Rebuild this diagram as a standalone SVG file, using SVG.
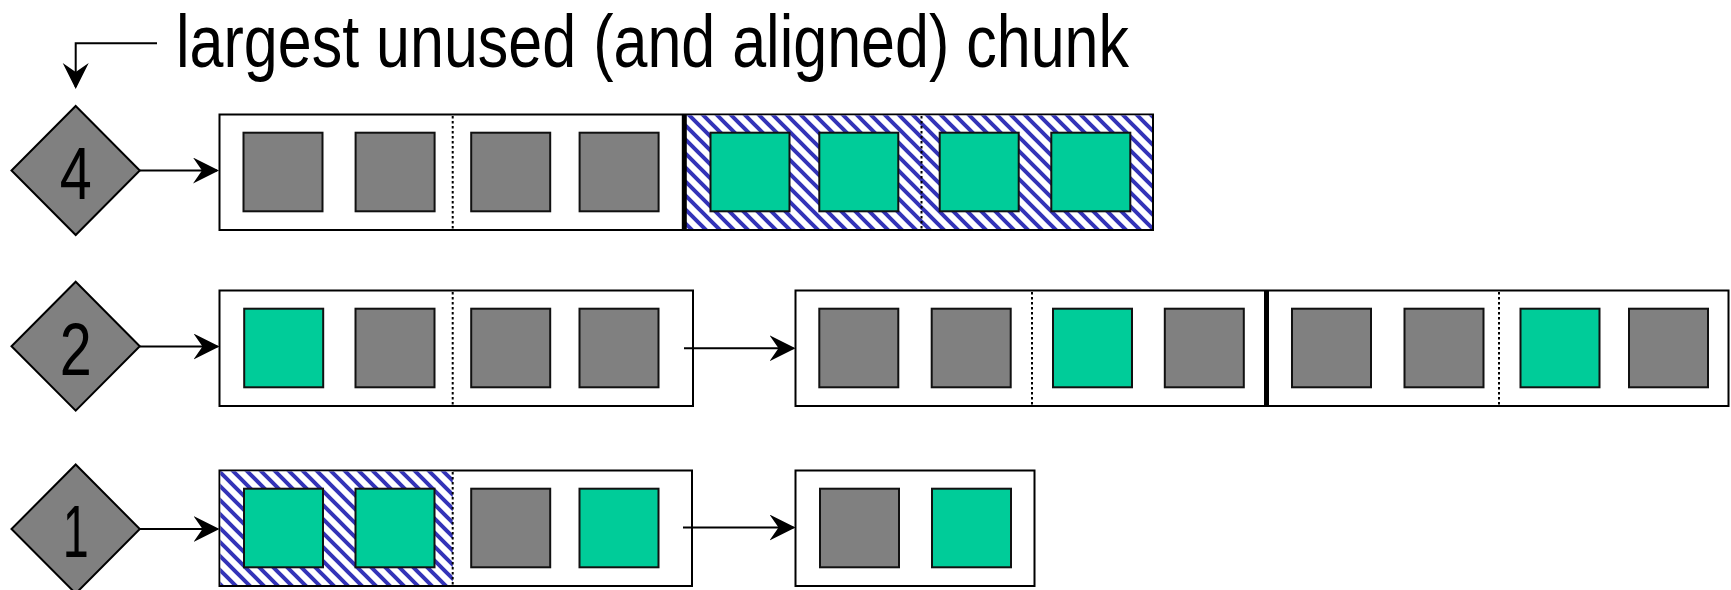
<svg xmlns="http://www.w3.org/2000/svg" width="1731" height="590" viewBox="0 0 1731 590">
  <style>
    .txt { font-family: "Liberation Sans Narrow", "Liberation Sans", Arial, sans-serif; fill: #000; }
    .num { font-size: 75px; text-anchor: middle; }
    .dia { fill: #808080; stroke: #000; stroke-width: 2; }
    .box { fill: #fff; stroke: #000; stroke-width: 2; }
    .hatch { fill: url(#stripes); stroke: none; }
    .used { fill: #808080; stroke: #111; stroke-width: 2; }
    .free { fill: #00cc99; stroke: #111; stroke-width: 2; }
    .half { stroke: #000; stroke-width: 2; stroke-dasharray: 2.5 2.5; fill: none; }
    .join { stroke: #000; stroke-width: 5; }
    .conn { stroke: #000; stroke-width: 2; fill: none; marker-end: url(#head); }
  </style>
  <defs>
    <pattern id="stripes" patternUnits="userSpaceOnUse" width="14" height="14">
      <rect width="14" height="14" fill="#fff"/>
      <path d="M-3,-3 L17,17 M-3,11 L3,17 M11,-3 L17,3" stroke="#3333b8" stroke-width="4"/>
    </pattern>
    <marker id="head" markerUnits="userSpaceOnUse" markerWidth="27" markerHeight="27" refX="24" refY="13" orient="auto">
      <path d="M0,0 L26,13 L0,26 L9,13 Z" fill="#000"/>
    </marker>
  </defs>

  <!-- caption -->
  <g id="caption">
    <text class="txt" x="176" y="67" font-size="74" textLength="953" lengthAdjust="spacingAndGlyphs">largest unused (and aligned) chunk</text>
  </g>

  <!-- size-class diamonds -->
  <g id="rank-4">
    <polygon class="dia" points="75.7,106 139.8,170.5 75.7,235 11.5,170.5"/>
    <text class="txt num" x="75.7" y="199" textLength="32" lengthAdjust="spacingAndGlyphs">4</text>
  </g>
  <g id="rank-2">
    <polygon class="dia" points="75.7,281.7 139.8,346.2 75.7,410.7 11.5,346.2"/>
    <text class="txt num" x="75.7" y="375" textLength="32" lengthAdjust="spacingAndGlyphs">2</text>
  </g>
  <g id="rank-1">
    <polygon class="dia" points="75.7,464.5 139.8,529 75.7,593.5 11.5,529"/>
    <text class="txt num" x="75.7" y="557" textLength="26" lengthAdjust="spacingAndGlyphs">1</text>
  </g>

  <!-- rank 4: one block, right half free -->
  <g id="block-4a">
    <rect class="box" x="219.5" y="114.5" width="933.5" height="115.5"/>
    <rect class="hatch" x="684" y="115.5" width="468" height="113.5"/>
    <rect class="used" x="243.5" y="132.7" width="79" height="78.6"/>
    <rect class="used" x="355.6" y="132.7" width="79" height="78.6"/>
    <rect class="used" x="471.2" y="132.7" width="79" height="78.6"/>
    <rect class="used" x="579.6" y="132.7" width="79" height="78.6"/>
    <rect class="free" x="710.5" y="132.7" width="79" height="78.6"/>
    <rect class="free" x="819.3" y="132.7" width="79" height="78.6"/>
    <rect class="free" x="939.7" y="132.7" width="79" height="78.6"/>
    <rect class="free" x="1051.3" y="132.7" width="79" height="78.6"/>
    <line class="half" x1="452.7" y1="116" x2="452.7" y2="229"/>
    <line class="half" x1="921.5" y1="116" x2="921.5" y2="229"/>
    <line class="join" x1="684.3" y1="114.5" x2="684.3" y2="230"/>
  </g>

  <!-- rank 2: two blocks -->
  <g id="block-2a">
    <rect class="box" x="219.5" y="290.5" width="473.5" height="115.5"/>
    <rect class="free" x="244.2" y="308.7" width="79" height="78.6"/>
    <rect class="used" x="355.5" y="308.7" width="79" height="78.6"/>
    <rect class="used" x="471.2" y="308.7" width="79" height="78.6"/>
    <rect class="used" x="579.5" y="308.7" width="79" height="78.6"/>
    <line class="half" x1="452.7" y1="292" x2="452.7" y2="405"/>
  </g>
  <g id="block-2b">
    <rect class="box" x="795.5" y="290.5" width="933" height="115.5"/>
    <rect class="used" x="819.3" y="308.7" width="79" height="78.6"/>
    <rect class="used" x="931.7" y="308.7" width="79" height="78.6"/>
    <rect class="free" x="1053" y="308.7" width="79" height="78.6"/>
    <rect class="used" x="1164.8" y="308.7" width="79" height="78.6"/>
    <rect class="used" x="1292" y="308.7" width="79" height="78.6"/>
    <rect class="used" x="1404.5" y="308.7" width="79" height="78.6"/>
    <rect class="free" x="1520.5" y="308.7" width="79" height="78.6"/>
    <rect class="used" x="1629" y="308.7" width="79" height="78.6"/>
    <line class="half" x1="1032" y1="292" x2="1032" y2="405"/>
    <line class="half" x1="1499" y1="292" x2="1499" y2="405"/>
    <line class="join" x1="1266.5" y1="290.5" x2="1266.5" y2="406"/>
  </g>

  <!-- rank 1: two blocks, first quarter free -->
  <g id="block-1a">
    <rect class="box" x="219.5" y="470.5" width="472.5" height="115.5"/>
    <rect class="hatch" x="220.5" y="471.5" width="232.2" height="113.5"/>
    <rect class="free" x="244" y="488.7" width="79" height="78.6"/>
    <rect class="free" x="355.5" y="488.7" width="79" height="78.6"/>
    <rect class="used" x="471.2" y="488.7" width="79" height="78.6"/>
    <rect class="free" x="579.5" y="488.7" width="79" height="78.6"/>
    <line class="half" x1="452.7" y1="472" x2="452.7" y2="585"/>
  </g>
  <g id="block-1b">
    <rect class="box" x="795.5" y="470.5" width="239" height="115.5"/>
    <rect class="used" x="820" y="488.7" width="79" height="78.6"/>
    <rect class="free" x="932" y="488.7" width="79" height="78.6"/>
  </g>

  <!-- links -->
  <g id="connectors">
    <path class="conn" d="M157,43.3 H75.7 V87"/>
    <path class="conn" d="M139.8,170.5 H217"/>
    <path class="conn" d="M139.8,346.5 H217.5"/>
    <path class="conn" d="M139.8,529 H217.5"/>
    <path class="conn" d="M684,348.3 H793.5"/>
    <path class="conn" d="M683,527.5 H793.5"/>
  </g>
</svg>
